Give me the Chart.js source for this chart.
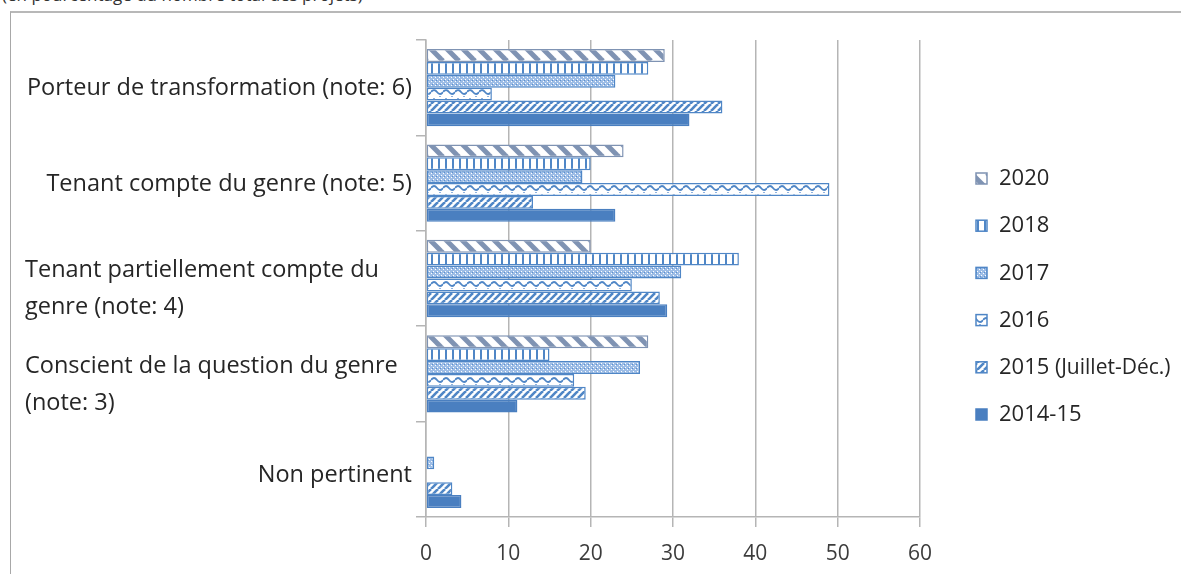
<!DOCTYPE html>
<html>
<head>
<meta charset="utf-8">
<script src="https://cdn.jsdelivr.net/npm/chart.js@4.4.1/dist/chart.umd.min.js"></script>
<style>
  html, body { margin: 0; padding: 0; background: #fff; overflow: hidden; width: 1181px; height: 574px; }
  #note { position: absolute; left: 2px; top: -15px; font: 17px "Open Sans", sans-serif; color: #333; line-height: 20px; white-space: nowrap; }
  #frame { position: absolute; left: 10px; top: 11px; width: 1171px; height: 563px; border-left: 1px solid #a8a8a8; border-top: 2px solid #b8b8b8; box-sizing: border-box; background: #fff; }
  #wrap { position: absolute; left: 11px; top: 13px; width: 1170px; height: 561px; }
</style>
</head>
<body>
<div id="note">(en pourcentage du nombre total des projets)</div>
<div id="frame"></div>
<div id="wrap"><canvas id="chart" width="1170" height="568"></canvas></div>
<script>
// categories, top to bottom
const categories = [
  ["Porteur de transformation (note: 6)"],
  ["Tenant compte du genre (note: 5)"],
  ["Tenant partiellement compte du", "genre (note: 4)"],
  ["Conscient de la question du genre", "(note: 3)"],
  ["Non pertinent"]
];
const years = ["2020", "2018", "2017", "2016", "2015", "2014-15"];
const yearNotes = ["", "", "", "", "(Juillet-Déc.)", ""];

const v2020 = [29, 24, 20, 27, 0];
const v2018 = [27, 20, 38, 15, 0];
const v2017 = [23, 19, 31, 26, 1];
const v2016 = [8, 49, 25, 18, 0];
const v2015 = [36, 13, 28.4, 19.4, 3.2];
const v2014 = [32, 23, 29.3, 11.1, 4.3];

const xMin = 0, xMax = 60, xStep = 10;

const BLUE = '#4f86c6';
const GREYBLUE = '#7f93b3';
const FONT = '"Open Sans", sans-serif';

function tile(w, h, draw) {
  const c = document.createElement('canvas');
  c.width = w; c.height = h;
  const g = c.getContext('2d');
  g.fillStyle = '#fff';
  g.fillRect(0, 0, w, h);
  draw(g, w, h);
  return g.createPattern(c, 'repeat');
}

// wide "\" stripes
const p2020 = tile(16, 16, (g, s) => {
  g.strokeStyle = GREYBLUE; g.lineWidth = 5;
  for (const x of [-s, 0, s]) { g.beginPath(); g.moveTo(x, 0); g.lineTo(x + s, s); g.stroke(); }
});
// vertical lines
const p2018 = tile(7, 7, (g) => {
  g.fillStyle = BLUE; g.fillRect(0, 0, 2, 7);
});
// fine dots
const p2017 = tile(4, 4, (g) => {
  g.fillStyle = '#9dbde6'; g.fillRect(0, 0, 4, 4);
  g.fillStyle = '#fff'; g.fillRect(0, 0, 1, 1); g.fillRect(2, 2, 1, 1);
  g.fillStyle = '#5b8fcf'; g.fillRect(1, 3, 1, 1);
});
// wave
const p2016 = tile(12, 12, (g) => {
  g.strokeStyle = BLUE; g.lineWidth = 1.8;
  g.beginPath();
  g.moveTo(0, 7); g.quadraticCurveTo(3, 3, 6, 7); g.quadraticCurveTo(9, 11, 12, 7);
  g.stroke();
  g.fillStyle = '#8fb2de'; g.fillRect(2, 1, 2, 1); g.fillRect(8, 11, 2, 1);
});
// dense "/" stripes
const p2015 = tile(7, 7, (g, s) => {
  g.strokeStyle = BLUE; g.lineWidth = 2.6;
  for (const x of [-s, 0, s]) { g.beginPath(); g.moveTo(x, s); g.lineTo(x + s, 0); g.stroke(); }
});

const fills = [p2020, p2018, p2017, p2016, p2015, '#4a7fc0'];
const borders = [GREYBLUE, BLUE, BLUE, BLUE, BLUE, '#4a7fc0'];
const series = [v2020, v2018, v2017, v2016, v2015, v2014];

const labelPlugin = {
  id: 'labels',
  afterDraw(chart) {
    const { ctx, chartArea, scales } = chart;
    const y = scales.y;
    ctx.save();
    ctx.fillStyle = '#262626';
    ctx.font = '23.5px ' + FONT;
    ctx.textBaseline = 'middle';
    categories.forEach((lines, i) => {
      const py = y.getPixelForTick(i);
      if (lines.length > 1) {
        ctx.textAlign = 'left';
        lines.forEach((t, k) => ctx.fillText(t, 14, py - 8 + k * 37));
      } else {
        ctx.textAlign = 'right';
        ctx.fillText(lines[0], chartArea.left - 14, py + 1 + (i === 4 ? 5 : 0));
      }
    });

    // legend
    const lx = 965, ly = 165, gap = 47.2;
    years.forEach((t, i) => {
      const cy = ly + i * gap;
      ctx.fillStyle = fills[i];
      ctx.fillRect(lx, cy - 5, 11, 11);
      ctx.strokeStyle = borders[i];
      ctx.lineWidth = 1.5;
      ctx.strokeRect(lx, cy - 5, 11, 11);
      ctx.fillStyle = '#262626';
      ctx.textAlign = 'left';
      ctx.font = '22px ' + FONT;
      ctx.fillText(t, lx + 23, cy + 1);
      if (yearNotes[i]) {
        const w = ctx.measureText(t + ' ').width;
        ctx.font = '21px ' + FONT;
        ctx.fillText(yearNotes[i], lx + 23 + w, cy + 1);
      }
    });
    ctx.restore();
  }
};

new Chart(document.getElementById('chart'), {
  type: 'bar',
  data: {
    labels: categories,
    datasets: series.map((d, i) => ({
      label: years[i],
      data: d,
      backgroundColor: fills[i],
      borderColor: borders[i],
      borderWidth: 1.5,
      borderSkipped: false,
      barPercentage: 1,
      categoryPercentage: 0.81
    }))
  },
  options: {
    indexAxis: 'y',
    responsive: false,
    animation: false,
    devicePixelRatio: 1,
    layout: { padding: { left: 405, right: 261, top: 27, bottom: 0 } },
    plugins: { legend: { display: false }, tooltip: { enabled: false } },
    scales: {
      x: {
        min: xMin, max: xMax,
        ticks: { stepSize: xStep, color: '#3c3c3c', font: { family: 'Open Sans', size: 21, lineHeight: 1 }, padding: 16.5 },
        grid: { color: '#b5b5b5', lineWidth: 1.5, tickLength: 10 },
        border: { color: '#b5b5b5', width: 1.5 }
      },
      y: {
        offset: true,
        ticks: { display: false },
        grid: { offset: true, drawOnChartArea: false, drawTicks: true, tickLength: 10, color: '#b5b5b5', lineWidth: 1.5 },
        border: { color: '#b5b5b5', width: 1.5 }
      }
    }
  },
  plugins: [labelPlugin]
});
</script>
</body>
</html>
